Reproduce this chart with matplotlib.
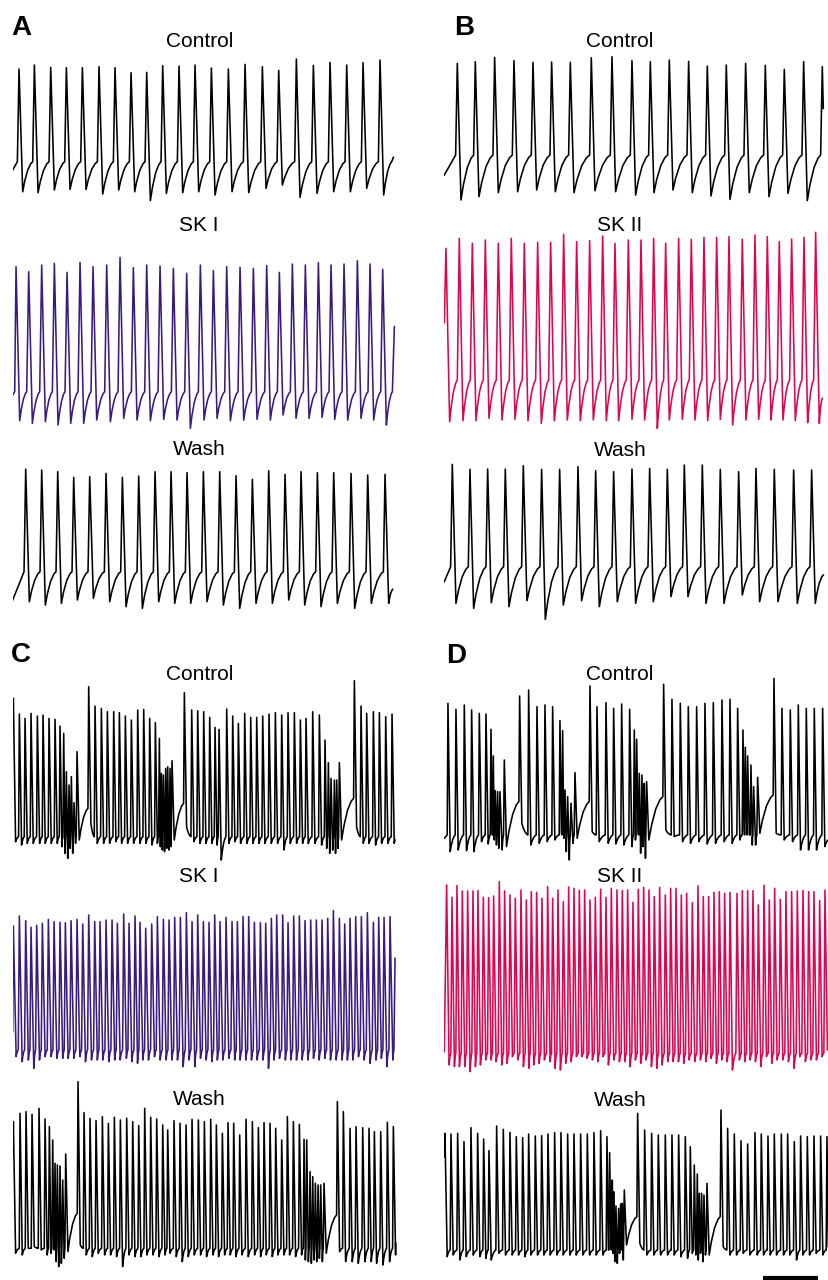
import matplotlib
matplotlib.use("Agg")
import matplotlib.pyplot as plt

plt.rcParams['font.family'] = ['Liberation Sans', 'DejaVu Sans']

# spike times (ms), spike peaks (mV) and the trough after each spike (mV)

# A - Control / SK I / Wash
a_ctrl_t = [114, 390, 684, 966, 1254, 1554, 1842, 2130, 2412, 2700, 2994, 3282, 3576, 3882,
            4182, 4494, 4788, 5106, 5412, 5712, 6012, 6306, 6612]
a_ctrl_peak = [8.6, 11, 9.6, 9.4, 9.4, 10, 9.4, 6.4, 6.6, 10.6, 10.4, 11, 9.2, 8.6, 11.4, 10,
               7.8, 14.6, 10.8, 12.6, 11, 12.4, 14]
a_ctrl_trough = [-65, -65.6, -64, -63.6, -63.6, -66.4, -64, -65, -70.4, -66, -65.6, -65, -67,
                 -65, -65.6, -63, -61, -68.4, -66, -65, -65, -63, -67]

a_ski_t = [60, 288, 522, 750, 978, 1212, 1446, 1692, 1932, 2172, 2412, 2652, 2892, 3132, 3378,
           3612, 3852, 4092, 4332, 4572, 4800, 5034, 5268, 5502, 5730, 5964, 6204, 6432, 6660]
a_ski_peak = [27.4, 24.4, 28.4, 29.4, 24, 30, 27.4, 28.4, 33, 26.8, 28.4, 27.8, 26.4, 23.4, 28.4,
              25, 27.4, 27, 26.4, 28, 24, 29, 28.4, 29.8, 28.4, 29, 31, 29, 25.8]
a_ski_trough = [-65, -66.6, -65.6, -67.6, -66.6, -66.6, -64.6, -65.6, -63.6, -64.6, -65, -64.2,
                -64.6, -69.6, -64.6, -63.6, -65, -64.6, -64.2, -64.6, -61.6, -63.6, -63.6, -63,
                -64.2, -64.6, -63.6, -64.6, -67.6]

a_wash_t = [234, 522, 810, 1098, 1386, 1680, 1974, 2268, 2562, 2850, 3138, 3432, 3726, 4020,
            4314, 4608, 4902, 5190, 5484, 5778, 6090, 6390, 6702]
a_wash_peak = [14.6, 14, 13, 9.6, 10, 12, 9.6, 10.4, 13, 13, 12.4, 13, 13, 10.6, 8.4, 13.6, 11.4,
               13, 12.4, 12.4, 12, 11, 11.4]
a_wash_trough = [-65, -67, -66, -64, -63, -65, -68, -69, -65, -66, -66, -65, -67, -69, -66, -66,
                 -64, -67, -68, -66, -69, -66, -66]

# B - Control / SK II / Wash
b_ctrl_t = [234, 558, 906, 1254, 1596, 1932, 2268, 2646, 3018, 3378, 3708, 4050, 4398, 4734,
            5076, 5424, 5778, 6120, 6468, 6804]
b_ctrl_peak = [12, 13, 15.6, 13.6, 12.6, 12.8, 12.6, 15.4, 16, 13.6, 13, 14, 13.2, 10.4, 11, 12,
               10.8, 8.4, 13, 10]
b_ctrl_trough = [-70, -68, -65.6, -65, -64, -65, -65.6, -64.4, -65, -67, -65.6, -64, -65.6,
                 -67.6, -69.6, -65.6, -68, -66, -70.4, -65]

b_skii_t = [30, 270, 504, 738, 972, 1206, 1440, 1680, 1914, 2148, 2382, 2616, 2850, 3072, 3312,
            3540, 3768, 3984, 4218, 4446, 4674, 4902, 5124, 5364, 5592, 5814, 6030, 6252, 6474,
            6684]
b_skii_peak = [38, 44, 41, 43, 41, 44, 41, 41.6, 41.6, 46.4, 42, 42.6, 45.4, 41, 43, 43, 44, 41,
               44, 43.4, 44.6, 44.6, 45, 43.4, 46, 45, 42, 43.6, 44.6, 47.6]
b_skii_trough = [-66, -65.4, -65.4, -64, -65, -64.6, -65.4, -67, -65.4, -65, -65.4, -65, -65.4,
                 -65.4, -64.6, -65, -70, -65, -64.6, -65, -65.4, -64.6, -68, -65, -64.6, -65,
                 -65, -65.4, -66.6, -67]

b_wash_t = [144, 462, 780, 1098, 1422, 1752, 2076, 2406, 2724, 3048, 3378, 3696, 4014, 4320,
            4644, 4968, 5298, 5610, 5940, 6288, 6612]
b_wash_peak = [17.4, 14.4, 14.6, 14.6, 16.6, 14.4, 14.4, 16, 13.6, 13, 14.6, 15, 14.4, 17, 17,
               14.4, 13, 15, 14.4, 14, 14]
b_wash_trough = [-66, -69, -65.6, -68, -64.4, -75.6, -67, -64.4, -68, -65, -66, -65, -62, -62,
                 -66, -66, -61, -65, -65, -66, -66]

# C - Control / SK I / Wash (bursting)
c_ctrl_t = [12, 120, 222, 330, 444, 546, 654, 762, 852, 918, 966, 1014, 1056, 1104, 1158,
            1368, 1482, 1596, 1704, 1818, 1920, 2028, 2136, 2250, 2358, 2466, 2568, 2640, 2676,
            2712, 2754, 2790, 2832, 2868,
            3090, 3222, 3330, 3438, 3546, 3642, 3714, 3852, 3960, 4062, 4176, 4284, 4392, 4500,
            4614, 4728, 4842, 4956, 5070, 5178, 5280, 5400, 5520, 5622, 5682, 5730, 5790, 5832,
            5880,
            6150, 6270, 6372, 6492, 6600, 6714, 6828]
c_ctrl_peak = [21, 11.6, 9, 12, 10.4, 11, 9, 8.4, 4.4, 0, -23, -31, -26, -41.6, -11,
               28, 16.4, 15, 13, 13, 12.4, 10.4, 8, 14, 14.4, 9, 6.4, -3, -24, -25, -21, -20,
               -21, -16.4,
               24.4, 14, 13.6, 13, 9.6, 3.6, 2.4, 14.6, 10.4, 6, 12, 9.6, 9.6, 10.4, 11.6, 12.4,
               11, 12.4, 12.4, 8, 9, 13, 11, -4, -17.6, -27, -28, -28, -17.6,
               31.6, 16.4, 12, 13, 12.4, 10, 11.6]
c_ctrl_trough = [-65, -67, -66, -66, -66, -66, -66, -66, -68, -72, -75, -69, -72, -66, -64,
                 -54, -66, -66, -66, -65, -66, -66, -66, -66, -66, -67, -66, -68, -70, -71, -69,
                 -70, -68, -64,
                 -56, -65, -66, -66, -66, -67, -76, -66, -65, -66, -66, -66, -66, -66, -66, -66,
                 -70, -66, -66, -66, -66, -66, -67, -69, -72, -70, -72, -69, -64,
                 -56, -66, -66, -67, -66, -66, -66]
c_ctrl_burst_thr = {15: -45, 34: -42, 63: -39}

c_ski_t = [12, 120, 234, 330, 432, 534, 642, 744, 852, 948, 1050, 1158, 1260, 1368, 1476, 1572,
           1680, 1788, 1884, 1998, 2094, 2202, 2292, 2394, 2502, 2604, 2712, 2814, 2916, 3018,
           3126, 3228, 3330, 3432, 3534, 3636, 3732, 3840, 3948, 4044, 4146, 4248, 4350, 4458,
           4554, 4656, 4752, 4860, 4956, 5058, 5160, 5262, 5364, 5466, 5568, 5670, 5772, 5880,
           5976, 6072, 6174, 6276, 6384, 6492, 6588, 6684, 6792]
c_ski_peak = [15.4, 21.4, 18.6, 14.6, 15.8, 17, 19.4, 18, 17.6, 17.4, 18.6, 19.4, 16.6, 22, 18,
              18, 19, 19, 17, 22.6, 17, 21.4, 17.6, 14, 16.6, 21, 19.4, 19, 20.6, 20.6, 23.4, 18,
              22, 18, 17.6, 22, 18, 20.6, 18, 18, 21, 21, 17.6, 17.4, 17, 20, 22, 22, 17.4, 21.4,
              21.4, 18.6, 19, 19, 19, 20, 24.6, 20, 16.6, 20, 21, 21, 23.4, 17.6, 20.6, 20.6, 21]
c_ski_trough = [-63, -66, -65, -70, -65, -63, -63, -64, -64, -64, -64, -63, -66, -65, -65, -65,
                -66, -65, -65, -64, -66, -67, -65, -65, -63, -65, -65, -65, -65, -69, -65, -69,
                -64, -65, -66, -65, -65, -64, -65, -65, -65, -65, -65, -65, -70, -65, -64, -65,
                -65, -65, -65, -65, -64, -65, -64, -65, -65, -65, -65, -65, -63, -65, -67, -65,
                -64, -69, -65]

c_wash_t = [12, 132, 240, 348, 474, 582, 660, 720, 762, 804, 852, 900, 954,
            1176, 1284, 1392, 1500, 1614, 1722, 1830, 1938, 2052, 2160, 2268, 2376, 2484, 2592,
            2700, 2790, 2904, 3012, 3120, 3228, 3342, 3450, 3564, 3666, 3774, 3876, 3978, 4086,
            4200, 4314, 4422, 4524, 4632, 4734, 4842, 4944, 5052, 5160, 5244, 5292, 5352, 5400,
            5448, 5496, 5544, 5604,
            5844, 5952, 6072, 6180, 6300, 6414, 6510, 6624, 6744, 6852]
c_wash_peak = [14, 19, 20, 18.4, 22, 15.6, 11, 3, -11, -12, -12.6, -21, -5.4,
               38, 19.4, 16, 14.6, 17, 13, 16.6, 15, 16, 14, 11.6, 22, 16.6, 15.6, 12, 9, 14.6,
               13, 12, 15.4, 15, 14, 15.4, 12, 7, 13.4, 13, 6, 15.4, 14, 10.4, 13.4, 13, 10, 3,
               17, 14, 12.4, 3.4, 3, -16, -19, -23, -24, -24, -23,
               26, 20, 10, 11, 10.4, 10, 8, 8, 13.6, 11]
c_wash_trough = [-65, -66, -62, -61, -63, -66, -65, -63, -70, -73, -71, -68, -64,
                 -60, -66, -67, -65, -66, -66, -67, -73, -66, -67, -67, -66, -66, -67, -66, -65,
                 -67, -70, -67, -66, -66, -67, -66, -67, -66, -66, -67, -66, -67, -66, -67, -66,
                 -67, -66, -66, -66, -67, -66, -69, -70, -71, -69, -70, -68, -70, -65,
                 -64, -70, -70, -71, -70, -70, -71, -72, -70, -66]
c_wash_burst_thr = {13: -41, 59: -42}

# D - Control / SK II / Wash (bursting)
d_ctrl_t = [66, 210, 360, 492, 630, 750, 840, 882, 918, 960, 1002, 1080,
            1356, 1518, 1668, 1812, 1950, 2082, 2130, 2172, 2220, 2280, 2352,
            2622, 2748, 2910, 3048, 3192, 3336, 3420, 3462, 3510, 3558, 3600, 3642,
            3948, 4098, 4248, 4392, 4542, 4692, 4842, 4998, 5142, 5280, 5376, 5418, 5460, 5520,
            5568, 5640,
            5934, 6078, 6228, 6372, 6516, 6660, 6810]
d_ctrl_peak = [19, 15.4, 18, 15, 13, 12.6, 3.4, -12.6, -33.4, -34, -34, -15,
               23.4, 27, 17, 18, 17, 8.6, 2.6, -33, -37, -41, -22.6,
               29.4, 17, 19.4, 16, 18.6, 15.4, 3, -2.6, -23, -24, -29, -28,
               30.4, 21.4, 19, 17, 17, 19, 19.4, 21, 21.4, 16, 3, -7.4, -12.6, -18, -31, -25.4,
               34, 16, 15, 18, 16, 16, 16]
d_ctrl_trough = [-70, -69, -69.4, -70, -64, -65.4, -60, -63, -66, -68, -69, -67,
                 -53, -66, -65, -64, -63, -58, -62, -70, -75, -65, -62,
                 -58, -64, -65, -65.4, -66, -67, -63, -55, -71, -67, -74, -63,
                 -57, -61, -64, -65, -64, -65.4, -65, -64, -65, -63, -55, -58, -60, -66, -66,
                 -59,
                 -59, -63, -64, -69, -69, -69, -67]
d_ctrl_burst_thr = {12: -40, 23: -40, 35: -37, 51: -36}

d_skii_t = [42, 138, 228, 324, 420, 516, 606, 702, 798, 888, 990, 1086, 1182, 1278, 1380, 1476,
            1566, 1662, 1758, 1860, 1950, 2046, 2142, 2238, 2334, 2430, 2526, 2622, 2718, 2814,
            2910, 3006, 3108, 3204, 3300, 3396, 3492, 3588, 3684, 3780, 3876, 3978, 4074, 4170,
            4266, 4362, 4464, 4566, 4662, 4758, 4854, 4950, 5046, 5142, 5268, 5364, 5460, 5556,
            5652, 5754, 5850, 5946, 6048, 6150, 6252, 6354, 6456, 6558, 6654, 6756, 6852]
d_skii_peak = [42, 34.6, 41.6, 38.4, 38.4, 38.4, 38.6, 34.6, 34.4, 35.4, 44, 38.4, 36, 34, 39,
               33, 38, 37.6, 34, 41, 34, 39, 32, 40.8, 40, 38.8, 39, 33, 34.6, 39.4, 34.6, 40,
               39, 38.6, 39, 31.6, 39.4, 40.6, 39, 35, 40.6, 36, 40, 40, 36, 37, 31.4, 41.4, 35,
               35, 37.6, 38, 37, 37.6, 37, 38.6, 38.6, 38.6, 30, 41.8, 33, 40, 33.4, 38, 38,
               38.4, 38.6, 38, 38, 32.6, 39]
d_skii_trough = [-66, -67, -67, -67, -70, -67, -66, -63, -63, -64, -66, -65, -61, -63, -67, -68,
                 -66, -65, -63, -64, -68, -69, -65, -64, -61, -61, -62, -63, -64, -61, -66, -63,
                 -64, -64, -67, -63, -65, -63, -67, -68, -66, -64, -64, -64, -65, -63, -64, -63,
                 -64, -62, -65, -63, -64, -69, -63, -64, -63, -64, -67, -61, -65, -63, -63, -64,
                 -68, -61, -64, -63, -63, -61, -57]

d_wash_t = [12, 120, 240, 354, 480, 600, 708, 804, 942, 1062, 1182, 1296, 1410, 1518, 1638,
            1752, 1866, 1986, 2100, 2220, 2334, 2454, 2574, 2694, 2814, 2928, 2976, 3024, 3048,
            3090, 3138, 3174, 3204, 3240,
            3480, 3606, 3732, 3852, 3978, 4098, 4218, 4338, 4428, 4500, 4554, 4590, 4632, 4674,
            4728,
            4980, 5100, 5220, 5340, 5460, 5592, 5706, 5826, 5940, 6066, 6180, 6300, 6414, 6534,
            6654, 6774, 6888]
d_wash_peak = [8, 7.6, 8, 3, 11.4, 8, 4.6, -2.4, 12.4, 10.4, 8.6, 6, 5.4, 7.6, 6.4, 6.6, 7.6,
               8.4, 8.4, 7.6, 7.6, 7.6, 7.6, 8.4, 9.6, 6, -3.6, -20, -27, -35.6, -37, -34.4,
               -34, -26,
               20, 10, 8, 7, 7, 7, 7, 6, 0, -11, -16.4, -28, -28, -29, -22,
               22, 11, 7.6, 3.6, 1.6, 8.4, 7.6, 6.4, 7.6, 7.6, 7.6, 3, 6.4, 6, 6.4, 6.4, 6]
d_wash_trough = [-66, -65, -68, -66, -65, -66, -67, -68, -64, -65, -65, -65, -66, -65, -65, -65,
                 -65, -65, -65, -65, -65, -65, -65, -65, -65, -62, -61, -64, -69, -70, -64, -60,
                 -68, -59,
                 -58, -65, -65, -65, -65, -65, -66, -67, -64, -65, -68, -64, -69, -65, -65,
                 -60, -65, -65, -64, -65, -65, -65, -65, -65, -65, -65, -68, -65, -65, -64, -65,
                 -65]
d_wash_burst_thr = {34: -42, 49: -42}

BLACK = 'black'
PURPLE = '#3b1a80'
PINK = '#e0044f'

# shape of the after-hyperpolarisation recovery: (fraction of the gap, fraction of the way to threshold)
RECOVERY = [(0.2, 0.35), (0.5, 0.72), (0.8, 0.93)]

W, H = 829, 1280
MS_PER_PX = 18.0
MV_PER_PX = 0.6


def build_trace(t, peak, trough, thr, start, end, rise, fall, thr_at=None):
    thr_at = thr_at or {}
    xs, ys = [0.0], [start]
    n = len(t)
    for i in range(n):
        th = thr_at.get(i, thr)
        prev = t[i - 1] if i else 0.0
        r = min(rise, 0.4 * (t[i] - prev))
        if (i > 0 or start < th) and t[i] - r > xs[-1]:
            xs.append(t[i] - r)
            ys.append(th)
        xs.append(t[i])
        ys.append(peak[i])
        if i < n - 1:
            gap = t[i + 1] - t[i]
            f = min(fall, 0.5 * gap)
            t_next = t[i + 1] - min(rise, 0.4 * gap)
            v_next = thr_at.get(i + 1, thr)
        else:
            f = fall
            if end[1] < thr:
                t_next, v_next = end[0], end[1]
            else:
                t_next, v_next = end[0] - rise, thr
        t_tr = t[i] + f
        if t_tr >= end[0]:
            break
        xs.append(t_tr)
        ys.append(trough[i])
        if t_next > t_tr:
            for a, b in RECOVERY:
                xs.append(t_tr + a * (t_next - t_tr))
                ys.append(trough[i] + b * (v_next - trough[i]))
            if i == n - 1 and end[1] >= thr:
                xs.append(t_next)
                ys.append(v_next)
    keep = [k for k in range(len(xs)) if xs[k] < end[0]]
    return [xs[k] for k in keep] + [end[0]], [ys[k] for k in keep] + [end[1]]


fig = plt.figure(figsize=(W / 100, H / 100), dpi=100)


def sweep_axes(left_px, rest_px):
    # rest_px: page row of -65 mV
    bottom_px = rest_px + 25 / MV_PER_PX
    h = 140 / MV_PER_PX
    w = 7200 / MS_PER_PX
    ax = fig.add_axes([left_px / W, 1 - bottom_px / H, w / W, h / H])
    ax.set_xlim(0, 7200)
    ax.set_ylim(-90, 50)
    ax.axis('off')
    ax.patch.set_alpha(0)
    return ax


sweeps = [
    # data, threshold, start, end, rise, fall, burst thresholds, colour, left px, rest px
    ((a_ctrl_t, a_ctrl_peak, a_ctrl_trough), -47, -52, (6852, -44.4), 30, 66, None, BLACK, 12.7, 191.7),
    ((a_ski_t, a_ski_peak, a_ski_trough), -47.6, -49.6, (6870, -8.6), 36, 66, None, PURPLE, 12.7, 420.7),
    ((a_wash_t, a_wash_peak, a_wash_trough), -47, -64, (6840, -57.6), 30, 66, None, BLACK, 12.7, 601.7),
    ((b_ctrl_t, b_ctrl_peak, b_ctrl_trough), -43, -55, (6822, -15), 30, 66, None, BLACK, 444.3, 191.7),
    ((b_skii_t, b_skii_peak, b_skii_trough), -41, -6.6, (6804, -52), 36, 66, None, PINK, 444.3, 420.0),
    ((b_wash_t, b_wash_peak, b_wash_trough), -44, -53, (6822, -49), 30, 66, None, BLACK, 444.3, 601.7),
    ((c_ctrl_t, c_ctrl_peak, c_ctrl_trough), -62, 10, (6882, -64), 14, 40, c_ctrl_burst_thr, BLACK, 12.7, 841.7),
    ((c_ski_t, c_ski_peak, c_ski_trough), -59, -48, (6882, -4), 20, 50, None, PURPLE, 12.7, 1060.0),
    ((c_wash_t, c_wash_peak, c_wash_trough), -62, -6, (6894, -59), 14, 40, c_wash_burst_thr, BLACK, 12.7, 1253.3),
    ((d_ctrl_t, d_ctrl_peak, d_ctrl_trough), -60, -62, (6912, -63), 14, 40, d_ctrl_burst_thr, BLACK, 444.3, 843.3),
    ((d_skii_t, d_skii_peak, d_skii_trough), -59, -58, (6912, -55), 20, 44, None, PINK, 444.3, 1063.3),
    ((d_wash_t, d_wash_peak, d_wash_trough), -62, -6, (6912, -60), 14, 40, d_wash_burst_thr, BLACK, 444.3, 1255.0),
]

axes = []
for (t, pk, tr), thr, v0, end, rise, fall, thr_at, col, left, rest in sweeps:
    ax = sweep_axes(left, rest)
    xs, ys = build_trace(t, pk, tr, thr, v0, end, rise, fall, thr_at)
    ax.plot(xs, ys, color=col, lw=1.15, solid_joinstyle='round')
    axes.append(ax)

# scale bar (1 s) under the last sweep
axes[-1].plot([5730, 6730], [-78.5, -78.5], color='black', lw=3, solid_capstyle='butt')

titles = [("Control", 200, 47), ("SK I", 199, 231), ("Wash", 199, 455),
          ("Control", 620, 47), ("SK II", 620, 231), ("Wash", 620, 456),
          ("Control", 200, 680), ("SK I", 199, 882), ("Wash", 199, 1105),
          ("Control", 620, 680), ("SK II", 620, 882), ("Wash", 620, 1106)]
for s, x, y in titles:
    fig.text(x / W, 1 - y / H, s, ha='center', va='baseline', fontsize=15)

for s, x, y in [("A", 11, 35), ("B", 454, 35), ("C", 11, 662), ("D", 446, 663)]:
    fig.text(x / W, 1 - y / H, s, ha='left', va='baseline', fontsize=20, fontweight='bold')

fig.savefig('out.png', dpi=100)
